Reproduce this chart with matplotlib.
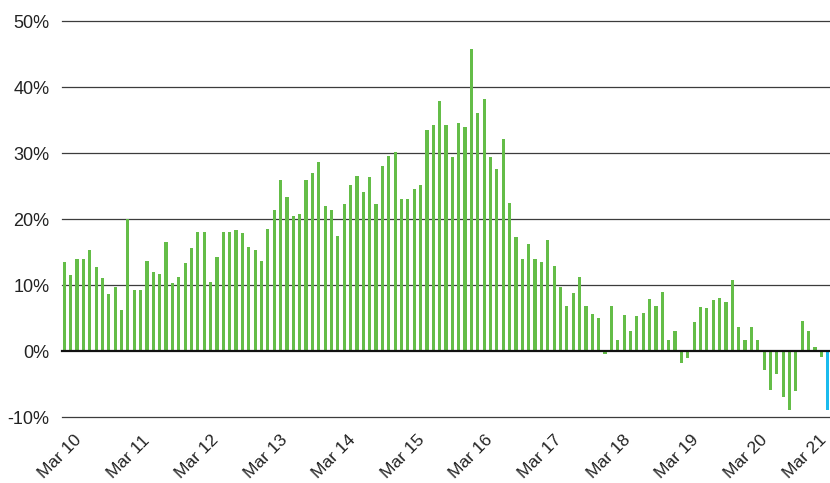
import matplotlib
matplotlib.use('Agg')
import matplotlib.pyplot as plt
import numpy as np

values = [
    13.5, 11.5, 13.9, 14.0, 15.3, 12.8, 11.1, 8.7, 9.8, 6.2,
    20.0, 9.3, 9.3, 13.6, 12.0, 11.7, 16.6, 10.3, 11.3, 13.3,
    15.7, 18.1, 18.1, 10.5, 14.3, 18.0, 18.0, 18.3, 17.9, 15.85,
    15.35, 13.6, 18.5, 21.4, 26.0, 23.3, 20.45, 20.8, 25.9, 27.0,
    28.6, 22.0, 21.4, 17.5, 22.3, 25.1, 26.6, 24.1, 26.4, 22.3,
    28.0, 29.5, 30.15, 23.1, 23.1, 24.5, 25.2, 33.5, 34.2, 37.9,
    34.2, 29.4, 34.6, 34.0, 45.7, 36.05, 38.2, 29.4, 27.55, 32.1,
    22.45, 17.35, 13.9, 16.3, 13.9, 13.45, 16.85, 12.95, 9.8, 6.8,
    8.8, 11.25, 6.8, 5.7, 5.0, -0.4, 6.8, 1.7, 5.5, 3.0,
    5.4, 5.75, 7.9, 6.9, 8.9, 1.75, 3.1, -1.75, -0.95, 4.4,
    6.75, 6.5, 7.8, 8.1, 7.4, 10.8, 3.7, 1.7, 3.7, 1.7,
    -2.85, -5.9, -3.45, -6.95, -8.95, -5.95, 4.6, 3.0, 0.6, -0.9,
    -8.95,
]
tick_labels = ['Mar 10', 'Mar 11', 'Mar 12', 'Mar 13', 'Mar 14', 'Mar 15',
               'Mar 16', 'Mar 17', 'Mar 18', 'Mar 19', 'Mar 20', 'Mar 21']
y_ticks = [-10, 0, 10, 20, 30, 40, 50]

GREEN = '#64bd48'
BLUE = '#1bbbee'

plt.rcParams['font.family'] = ['Liberation Sans', 'DejaVu Sans']

W, H = 830, 483
fig = plt.figure(figsize=(W / 100, H / 100), dpi=100)
ax = fig.add_axes([62 / W, 1 - 417.3 / H, (W - 62) / W, (417.3 - 21) / H])

x = np.arange(len(values))
colors = [GREEN] * len(values)
colors[-1] = BLUE
ax.bar(x, values, width=0.5, color=colors, zorder=2, linewidth=0)

for yv in y_ticks:
    if yv == 0:
        ax.axhline(yv, color='#111111', lw=1.6, zorder=3, clip_on=False)
    else:
        ax.axhline(yv, color='#3c3c3c', lw=0.9, zorder=1, clip_on=False)

for s in ax.spines.values():
    s.set_visible(False)

ax.set_yticks(y_ticks)
ax.set_yticklabels([f'{v}%' for v in y_ticks])
x_max = 120.36
tick_pos = np.minimum(3.15 + 10.78 * np.arange(len(tick_labels)), x_max - 0.15)
ax.set_xticks(tick_pos)
ax.set_xticklabels(tick_labels, rotation=45, ha='right')
ax.tick_params(axis='both', length=0, colors='#222222')
ax.tick_params(axis='y', labelsize=13, pad=9)
ax.tick_params(axis='x', labelsize=12.5, pad=11)

ax.set_xlim(-0.36, x_max)
ax.set_ylim(-10, 50)

fig.savefig('out.png', dpi=100)
